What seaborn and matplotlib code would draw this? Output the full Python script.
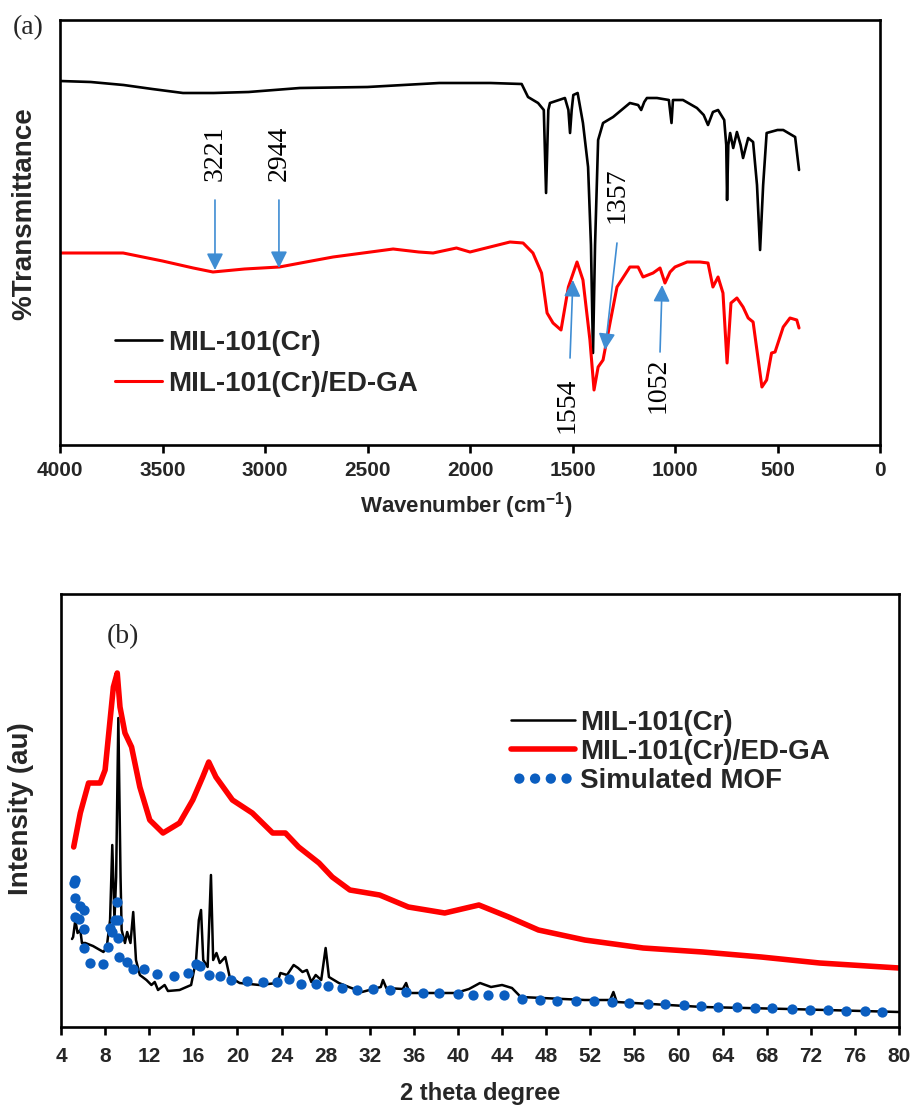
import matplotlib
matplotlib.use("Agg")
import numpy as np
import pandas as pd
import matplotlib.pyplot as plt
import seaborn as sns
from matplotlib import font_manager

# ---------------- FTIR data (panel a) ----------------
ftir_mil_wn = [4000, 3850, 3690, 3550, 3400, 3250, 3080, 2830, 2500, 2150, 2098, 1900, 1748,
               1717, 1668, 1640, 1629, 1618, 1610, 1537, 1520, 1512, 1504, 1496, 1475, 1449,
               1424, 1410, 1400, 1390, 1375, 1351, 1302, 1220, 1180, 1165, 1150, 1137, 1088,
               1030, 1017, 1010, 961, 893, 860, 839, 815, 790, 760, 750, 746, 740, 731, 716,
               698, 680, 668, 643, 619, 600, 585, 570, 553, 500, 472, 414, 395]
ftir_mil_t = [364, 363, 360, 356, 352, 352, 353, 357, 358, 362, 362, 362, 361,
              348, 342, 335, 252, 335, 342, 347, 335, 312, 335, 350, 352, 322,
              278, 200, 92, 200, 305, 322, 328, 342, 340, 335, 343, 347, 347,
              345, 322, 345, 345, 337, 330, 320, 333, 335, 325, 300, 245, 300, 312, 297,
              313, 300, 287, 307, 303, 260, 195, 260, 312, 315, 315, 308, 275]

ftir_edga_wn = [4000, 3850, 3692, 3500, 3350, 3254, 3100, 2930, 2800, 2668, 2375, 2250, 2180,
                2066, 2000, 1805, 1741, 1693, 1651, 1624, 1595, 1556, 1520, 1478, 1449, 1415,
                1395, 1375, 1351, 1317, 1283, 1220, 1180, 1156, 1107, 1073, 1049, 1024, 1000,
                941, 878, 839, 815, 790, 766, 746, 727, 698, 668, 643, 619, 576, 553, 529,
                512, 472, 439, 406, 395]
ftir_edga_t = [192, 192, 192, 184, 177, 173, 176, 178, 183, 188, 196, 193, 192,
               197, 193, 203, 202, 192, 172, 132, 122, 115, 158, 183, 165, 105,
               55, 78, 85, 122, 158, 178, 178, 168, 172, 177, 162, 173, 178,
               183, 183, 182, 158, 168, 152, 82, 142, 147, 138, 127, 123, 58, 65, 92,
               93, 118, 127, 125, 117]

peak_labels = ["3221", "2944", "1357", "1554", "1052"]

# ---------------- XRD data (panel b) ----------------
xrd_mil_x = [5.0, 5.1, 5.3, 5.5, 5.75, 5.9, 6.2, 6.9, 7.85, 8.15, 8.45, 8.65, 8.85, 9.0, 9.2,
             9.4, 9.5, 9.8, 10.0, 10.3, 10.55, 10.8, 11.15, 11.75, 12.2, 12.5, 12.8, 13.4,
             13.7, 14.75, 15.8, 16.25, 16.5, 16.7, 16.9, 17.3, 17.6, 17.8, 18.1, 18.4, 18.9,
             19.3, 20.2, 22.0, 23.6, 23.9, 24.5, 25.1, 25.5, 25.9, 26.3, 26.7, 27.1, 27.6,
             28.0, 28.3, 29.2, 30.1, 31.3, 33.0, 33.2, 33.5, 35.0, 35.3, 35.6, 39.8, 41.0,
             42.0, 43.0, 44.0, 44.9, 45.7, 51.5, 53.8, 54.1, 54.4, 62.2, 70.0, 80.0]
xrd_mil_i = [88, 90, 107, 94, 97, 84, 84, 81, 75, 80, 107, 182, 107, 150, 309,
             150, 97, 84, 95, 84, 115, 67, 52, 47, 42, 45, 37, 42,
             36, 37, 42, 67, 107, 117, 67, 60, 152, 67, 74, 64, 70,
             50, 44, 42, 44, 54, 52, 62, 59, 55, 57, 45, 52, 47,
             79, 50, 44, 40, 35, 40, 47, 39, 38, 44, 34, 34, 38,
             44, 40, 42, 39, 30, 27, 27, 35, 25, 20, 18, 15]

xrd_edga_x = [5.15, 5.75, 6.5, 7.55, 8.0, 8.45, 8.75, 9.1, 9.35, 9.8, 10.4, 11.15, 12.05,
              13.25, 14.75, 15.95, 16.85, 17.4, 18.05, 19.55, 21.35, 23.2, 24.35, 25.55,
              27.4, 28.6, 30.2, 32.9, 35.5, 38.8, 41.9, 44.6, 47.3, 51.5, 56.8, 62.2, 67.5,
              72.8, 80.0]
xrd_edga_i = [180, 214, 244, 244, 257, 307, 340, 354, 320, 294, 280, 240, 207,
              194, 204, 227, 250, 265, 250, 227, 214, 194, 194, 180,
              164, 150, 137, 132, 120, 114, 122, 110, 97, 87, 79, 75, 70,
              64, 59]

sim_x = [5.15, 5.3, 5.3, 5.3, 5.6, 5.75, 6.05, 6.05, 6.1, 6.65, 7.8, 8.25, 8.4, 8.6, 8.9,
         9.2, 9.05, 9.2, 9.3, 9.95, 10.5, 11.5, 12.7, 14.25, 15.5, 16.25, 16.6, 17.45,
         18.45, 19.4, 20.9, 22.3, 23.6, 24.7, 25.8, 27.1, 28.2, 29.5, 30.8, 32.3, 33.8,
         35.3, 36.8, 38.3, 40.0, 41.4, 42.7, 44.2, 45.8, 47.4, 49.0, 50.7, 52.3, 54.0,
         55.5, 57.2, 58.8, 60.5, 62.0, 63.6, 65.3, 66.9, 68.5, 70.3, 71.9, 73.6, 75.2,
         76.9, 78.5]
sim_i = [144, 147, 129, 110, 108, 121, 117, 98, 79, 64, 63, 80, 99, 95, 107,
         107, 125, 89, 70, 65, 58, 58, 53, 51, 54, 63, 61, 52,
         51, 47, 46, 45, 45, 48, 43, 43, 41, 39, 37, 38, 37,
         35, 34, 34, 33, 32, 32, 32, 28, 27, 26, 26, 26, 25,
         24, 23, 23, 22, 21, 20, 20, 19, 19, 18, 17, 17, 16,
         16, 15]

series_names = ["MIL-101(Cr)", "MIL-101(Cr)/ED-GA", "Simulated MOF"]

# ---------------- style ----------------
sns.set_theme(style="ticks")
names = {f.name for f in font_manager.fontManager.ttflist}
SANS = "Liberation Sans" if "Liberation Sans" in names else "DejaVu Sans"
NARROW = "Liberation Sans Narrow" if "Liberation Sans Narrow" in names else SANS
SERIF = "Liberation Serif" if "Liberation Serif" in names else "DejaVu Serif"
plt.rcParams["font.family"] = [SANS, "DejaVu Sans"]
plt.rcParams["mathtext.fontset"] = "custom"
plt.rcParams["mathtext.rm"] = NARROW
plt.rcParams["mathtext.bf"] = NARROW + ":bold"
tick_size = 18 if NARROW != SANS else 15
xlab_size = 19 if NARROW != SANS else 16

BLACK = "#000000"
RED = "#FF0000"
BLUE = "#0B5EC0"
ARROW = "#3F8DD3"

W, H = 917, 1112
fig = plt.figure(figsize=(W / 100, H / 100), dpi=100)
ax1 = fig.add_axes([60 / W, 1 - 445 / H, 820 / W, 425 / H])
ax2 = fig.add_axes([61 / W, 1 - 1027 / H, 838 / W, 433 / H])

df_mil = pd.DataFrame({"wn": ftir_mil_wn, "T": ftir_mil_t})
df_edga = pd.DataFrame({"wn": ftir_edga_wn, "T": ftir_edga_t})
sns.lineplot(data=df_mil, x="wn", y="T", ax=ax1, color=BLACK, lw=1.9,
             estimator=None, label=series_names[0])
sns.lineplot(data=df_edga, x="wn", y="T", ax=ax1, color=RED, lw=2.2,
             estimator=None, label=series_names[1])

# annotations (layout positions in data coords)
label_pos = [(3244, 292), (2932, 292), (1283, 250), (1527, 40), (1083, 60)]
arrow_tail = [(3244, 245), (2932, 245), (1283, 202), (1512, 87), (1073, 93)]
arrow_tip = [(3244, 175), (2932, 177), (1341, 95), (1498, 165), (1063, 160)]
for lab, tp, tail, tip in zip(peak_labels, label_pos, arrow_tail, arrow_tip):
    ax1.annotate("", xy=tip, xytext=tail,
                 arrowprops=dict(arrowstyle="-|>,head_length=0.5,head_width=0.25",
                                 color=ARROW, lw=1.2, mutation_scale=20,
                                 shrinkA=0, shrinkB=0))
    ax1.text(tp[0], tp[1], lab, rotation=90, ha="center", va="center",
             fontfamily=SERIF, fontsize=20, color="black")

ax1.set_xlim(4000, 0)
ax1.set_ylim(0, 425)
ax1.set_xticks(np.arange(0, 4001, 500))
ax1.set_yticks([])

ax1.legend(loc="center left", bbox_to_anchor=(0.067, 0.192), frameon=False,
           prop={"family": SANS, "weight": "bold", "size": 20},
           handlelength=1.7, handletextpad=0.2, labelspacing=0.55,
           borderpad=0, borderaxespad=0)

ax1.set_xlabel(r"Wavenumber (cm$^{\mathbf{-1}}$)", fontsize=xlab_size, fontweight="bold",
               fontfamily=NARROW)
ax1.xaxis.set_label_coords(0.495, -0.105)
ax1.xaxis.label.set_va("top")
ax1.set_ylabel("%Transmittance", fontsize=20, fontweight="bold")
ax1.yaxis.set_label_coords((24 - 60) / 820, (445 - 214) / 425)
ax1.yaxis.label.set_va("center")
fig.text(28 / W, 1 - 28 / H, "(a)", ha="center", va="center", fontfamily=SERIF, fontsize=20)

# ---------------- XRD panel ----------------
df_xm = pd.DataFrame({"x": xrd_mil_x, "I": xrd_mil_i})
df_xe = pd.DataFrame({"x": xrd_edga_x, "I": xrd_edga_i})
df_sim = pd.DataFrame({"x": sim_x, "I": sim_i})
sns.lineplot(data=df_xm, x="x", y="I", ax=ax2, color=BLACK, lw=1.8,
             estimator=None, sort=False, label=series_names[0])
sns.lineplot(data=df_xe, x="x", y="I", ax=ax2, color=RED, lw=4.0,
             estimator=None, label=series_names[1])
sns.scatterplot(data=df_sim, x="x", y="I", ax=ax2, color=BLUE, s=55, linewidth=0,
                label=series_names[2], zorder=5)

ax2.set_xlim(4, 80)
ax2.set_ylim(0, 433)
ax2.set_xticks(np.arange(4, 81, 4))
ax2.set_yticks([])
ax2.legend(loc="center left", bbox_to_anchor=((511 - 61) / 838, (1027 - 752) / 433),
           frameon=False, prop={"family": SANS, "weight": "bold", "size": 20},
           handlelength=2.3, handletextpad=0.2, labelspacing=0.12,
           borderpad=0, borderaxespad=0, scatterpoints=4, scatteryoffsets=[0.5])

ax2.set_xlabel("2 theta degree", fontsize=xlab_size + 1, fontweight="bold", fontfamily=NARROW)
ax2.xaxis.set_label_coords(0.5, -0.128)
ax2.xaxis.label.set_va("top")
ax2.set_ylabel("Intensity (au)", fontsize=20, fontweight="bold")
ax2.yaxis.set_label_coords((21 - 61) / 838, (1027 - 809) / 433)
ax2.yaxis.label.set_va("center")
ax2.text((123 - 61) / 838, (1027 - 637) / 433, "(b)", transform=ax2.transAxes,
         ha="center", va="center", fontfamily=SERIF, fontsize=20)

for ax, pad in ((ax1, 6.0), (ax2, 8.5)):
    for sp in ax.spines.values():
        sp.set_visible(True)
        sp.set_linewidth(1.9)
        sp.set_color("black")
    ax.tick_params(axis="x", direction="out", length=5.8, width=1.9, color="black",
                   labelsize=tick_size, pad=pad)
    for t in ax.get_xticklabels():
        t.set_fontfamily(NARROW)
        t.set_fontweight("bold")
    ax.set_facecolor("white")

fig.savefig("out.png", dpi=100, facecolor="white")
